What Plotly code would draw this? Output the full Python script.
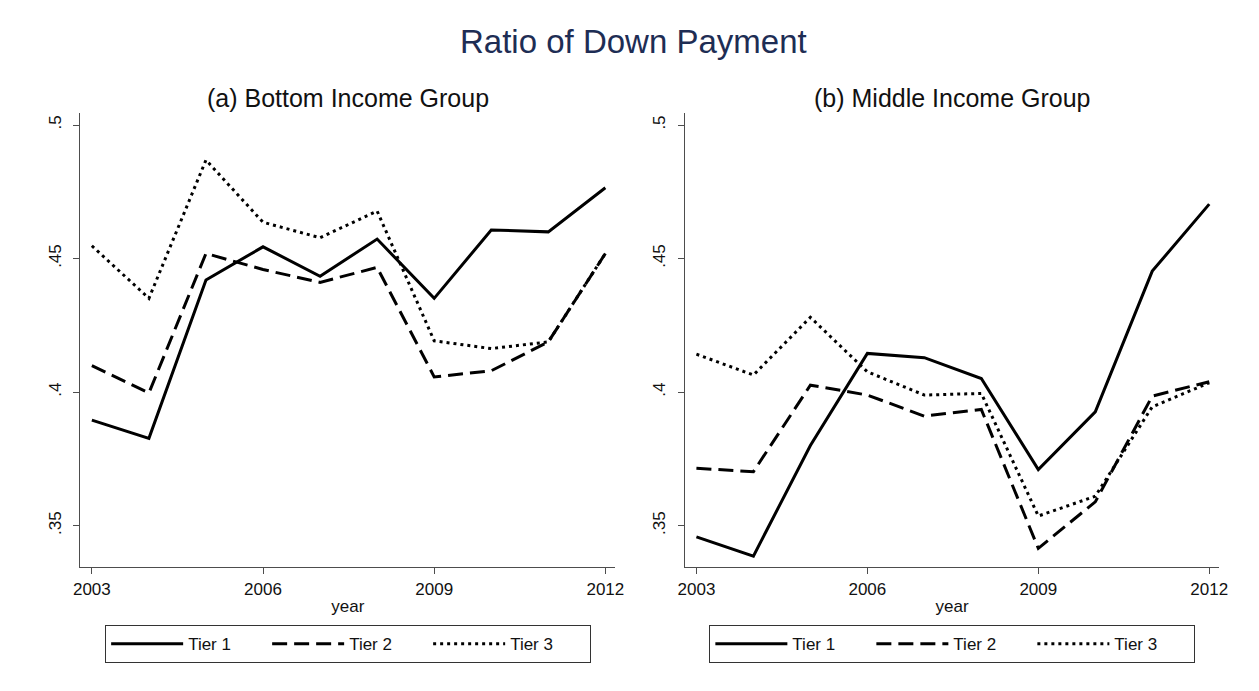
import plotly.graph_objects as go

years = [2003, 2004, 2005, 2006, 2007, 2008, 2009, 2010, 2011, 2012]

# (a) Bottom Income Group
bottom_tier1 = [0.3895, 0.3827, 0.4420, 0.4544, 0.4434, 0.4573, 0.4351, 0.4607, 0.4600, 0.4765]
bottom_tier2 = [0.4099, 0.3997, 0.4519, 0.4459, 0.4411, 0.4467, 0.4057, 0.4080, 0.4188, 0.4519]
bottom_tier3 = [0.4548, 0.4351, 0.4869, 0.4636, 0.4578, 0.4678, 0.4192, 0.4163, 0.4188, 0.4519]

# (b) Middle Income Group
middle_tier1 = [0.3458, 0.3386, 0.3800, 0.4145, 0.4129, 0.4051, 0.3710, 0.3926, 0.4453, 0.4704]
middle_tier2 = [0.3715, 0.3702, 0.4026, 0.3989, 0.3910, 0.3935, 0.3415, 0.3589, 0.3985, 0.4039]
middle_tier3 = [0.4142, 0.4064, 0.4280, 0.4076, 0.3989, 0.3995, 0.3536, 0.3610, 0.3945, 0.4035]

series_names = ["Tier 1", "Tier 2", "Tier 3"]
panel_titles = ["(a) Bottom Income Group", "(b) Middle Income Group"]
main_title = "Ratio of Down Payment"
x_ticks = [2003, 2006, 2009, 2012]
y_ticks = [0.35, 0.40, 0.45, 0.50]
y_ticklabels = [".35", ".4", ".45", ".5"]

FONT = "Arial, 'Liberation Sans', sans-serif"
dashes = ["solid", "15px,7px", "3px,4px"]

# page body has an 8px margin: size the figure so it fills the window
OFF = 8
W, H = 1259 - OFF, 691 - OFF


def px_x(X):
    return (X - OFF) / W


def px_y(Y):
    return 1 - (Y - OFF) / H


fig = go.Figure()
panels = [
    (bottom_tier1, bottom_tier2, bottom_tier3),
    (middle_tier1, middle_tier2, middle_tier3),
]
for p, data in enumerate(panels):
    xa = "x" if p == 0 else "x2"
    ya = "y" if p == 0 else "y2"
    lg = "legend" if p == 0 else "legend2"
    for name, vals, dash in zip(series_names, data, dashes):
        fig.add_trace(go.Scatter(
            x=years, y=vals, mode="lines", name=name,
            line=dict(color="black", width=3, dash=dash),
            xaxis=xa, yaxis=ya, legend=lg, showlegend=True,
        ))

axis_common = dict(showgrid=False, zeroline=False, showline=True, linecolor="#4d4d4d",
                   linewidth=1.3, ticks="outside", tickcolor="#4d4d4d", ticklen=6,
                   tickwidth=1.3, tickfont=dict(family=FONT, size=17, color="#111111"))
xr = [2002.8, 2012.173]
yr = [0.3344, 0.5044]
xdom = [[px_x(74.3), px_x(616)], [px_x(686.7), px_x(1227.7)]]
ydom = [px_y(567.3), px_y(113.3)]

legend_common = dict(orientation="h", y=px_y(625), yanchor="top",
                     bordercolor="#333333", borderwidth=1.3,
                     font=dict(size=17, family=FONT, color="#111111"),
                     itemwidth=72, entrywidth=74)

fig.update_layout(
    width=W, height=H,
    margin=dict(l=0, r=0, t=0, b=0),
    paper_bgcolor="white", plot_bgcolor="white",
    font=dict(family=FONT, color="#111111"),
    xaxis=dict(domain=xdom[0], range=xr, tickvals=x_ticks, anchor="y",
               title=dict(text="year", font=dict(size=17), standoff=2), **axis_common),
    yaxis=dict(domain=ydom, range=yr, tickvals=y_ticks, ticktext=y_ticklabels,
               tickangle=-90, anchor="x", ticklabelstandoff=6, **axis_common),
    xaxis2=dict(domain=xdom[1], range=xr, tickvals=x_ticks, anchor="y2",
                title=dict(text="year", font=dict(size=17), standoff=2), **axis_common),
    yaxis2=dict(domain=ydom, range=yr, tickvals=y_ticks, ticktext=y_ticklabels,
                tickangle=-90, anchor="x2", ticklabelstandoff=6, **axis_common),
    legend=dict(x=sum(xdom[0]) / 2, xanchor="center", **legend_common),
    legend2=dict(x=sum(xdom[1]) / 2, xanchor="center", **legend_common),
    annotations=[
        dict(text=main_title, x=px_x(635), y=px_y(41), xref="paper", yref="paper",
             showarrow=False, xanchor="center", yanchor="middle",
             font=dict(size=33, family=FONT, color="#1e2d54")),
        dict(text=panel_titles[0], x=sum(xdom[0]) / 2, y=px_y(98), xref="paper", yref="paper",
             showarrow=False, xanchor="center", yanchor="middle",
             font=dict(size=25, family=FONT, color="#111111")),
        dict(text=panel_titles[1], x=sum(xdom[1]) / 2, y=px_y(98), xref="paper", yref="paper",
             showarrow=False, xanchor="center", yanchor="middle",
             font=dict(size=25, family=FONT, color="#111111")),
    ],
)

fig.write_html("out.html")
